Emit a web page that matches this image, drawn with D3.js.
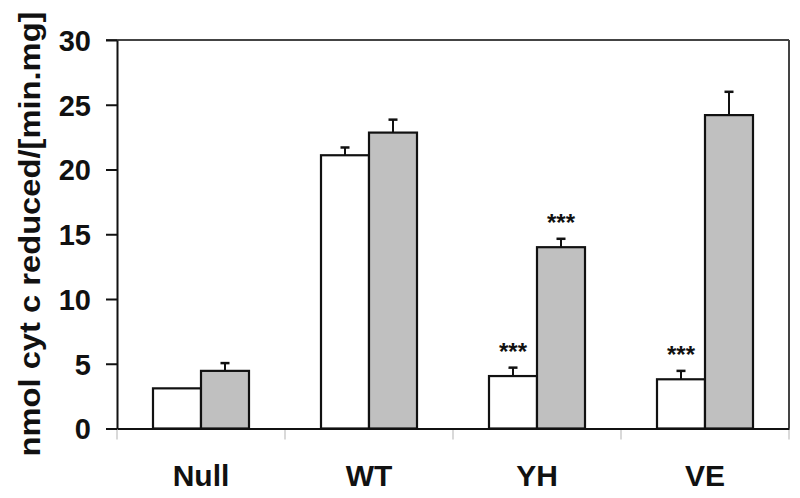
<!DOCTYPE html>
<html>
<head>
<meta charset="utf-8">
<script src="https://cdn.jsdelivr.net/npm/d3@7"></script>
<style>
  body { margin: 0; background: #fff; }
  text { font-family: "Liberation Sans", Arial, sans-serif; font-weight: bold; fill: #111; }
</style>
</head>
<body>
<div id="chart"></div>
<script>
// cytochrome c reduction, two series per strain
var categories = ["Null", "WT", "YH", "VE"];
var series = ["white", "gray"];
var whiteVals = [3.1, 21.1, 4.05, 3.8];
var grayVals = [4.45, 22.85, 14.0, 24.2];
var whiteErr = [0, 0.6, 0.65, 0.65];
var grayErr = [0.6, 1.0, 0.65, 1.8];
var whiteStars = ["", "", "***", "***"];
var grayStars = ["", "", "***", ""];
var yTicks = [0, 5, 10, 15, 20, 25, 30];

var W = 800, H = 498;
var margin = {top: 40, right: 11, bottom: 69.5, left: 117},
    width = W - margin.left - margin.right,
    height = H - margin.top - margin.bottom;

var svg = d3.select("#chart")
    .append("svg")
    .attr("width", W)
    .attr("height", H)
    .append("g")
    .attr("transform", `translate(${margin.left},${margin.top})`);

var x = d3.scaleBand().domain(categories).range([0, width]);
var x1 = d3.scaleBand().domain(series).range([0, x.bandwidth()]).paddingOuter(0.75);
var y = d3.scaleLinear().domain([0, 30]).range([height, 0]);

var fills = {white: "#ffffff", gray: "#c0c0c0"};

var data = [];
categories.forEach(function(c, i) {
  data.push({cat: c, s: "white", v: whiteVals[i], e: whiteErr[i], star: whiteStars[i]});
  data.push({cat: c, s: "gray", v: grayVals[i], e: grayErr[i], star: grayStars[i]});
});

// frame: top and right lines
svg.append("line")
    .attr("x1", -11).attr("x2", width)
    .attr("y1", y(30)).attr("y2", y(30))
    .attr("stroke", "#444").attr("stroke-width", 2);
svg.append("line")
    .attr("x1", width).attr("x2", width)
    .attr("y1", y(30)).attr("y2", height)
    .attr("stroke", "#444").attr("stroke-width", 2);

// light ticks under the baseline at category edges
var edges = categories.map(function(c) { return x(c); }).concat([x(categories[3]) + x.bandwidth()]);
svg.selectAll(".xtick")
    .data(edges)
  .enter().append("line")
    .attr("class", "xtick")
    .attr("x1", function(d) { return d; }).attr("x2", function(d) { return d; })
    .attr("y1", height).attr("y2", height + 11)
    .attr("stroke", "#ccc").attr("stroke-width", 1.5);

// bars
svg.selectAll(".bar")
    .data(data)
  .enter().append("rect")
    .attr("class", "bar")
    .attr("x", function(d) { return x(d.cat) + x1(d.s); })
    .attr("width", x1.bandwidth())
    .attr("y", function(d) { return y(d.v); })
    .attr("height", function(d) { return height - y(d.v); })
    .attr("fill", function(d) { return fills[d.s]; })
    .attr("stroke", "#111")
    .attr("stroke-width", 2.2);

// error bars
var withErr = data.filter(function(d) { return d.e > 0; });
var cx = function(d) { return x(d.cat) + x1(d.s) + x1.bandwidth() / 2; };
svg.selectAll(".err")
    .data(withErr)
  .enter().append("line")
    .attr("x1", cx).attr("x2", cx)
    .attr("y1", function(d) { return y(d.v); })
    .attr("y2", function(d) { return y(d.v + d.e); })
    .attr("stroke", "#111").attr("stroke-width", 2);
svg.selectAll(".cap")
    .data(withErr)
  .enter().append("line")
    .attr("x1", function(d) { return cx(d) - 4.5; })
    .attr("x2", function(d) { return cx(d) + 4.5; })
    .attr("y1", function(d) { return y(d.v + d.e); })
    .attr("y2", function(d) { return y(d.v + d.e); })
    .attr("stroke", "#111").attr("stroke-width", 2.5);

// significance stars
svg.selectAll(".star")
    .data(data.filter(function(d) { return d.star; }))
  .enter().append("text")
    .attr("x", cx)
    .attr("y", function(d) { return y(d.v + d.e) - 8; })
    .attr("text-anchor", "middle")
    .style("font-size", "24px")
    .text(function(d) { return d.star; });

// y axis
var yAxis = d3.axisLeft(y).tickValues(yTicks).tickSizeInner(11).tickSizeOuter(0).tickPadding(15);
var gy = svg.append("g").call(yAxis);
gy.select(".domain").attr("stroke", "#111").attr("stroke-width", 2);
gy.selectAll(".tick line").attr("stroke", "#111").attr("stroke-width", 2);
gy.selectAll(".tick text")
    .attr("fill", "#111")
    .style("font-family", "'Liberation Sans', Arial, sans-serif")
    .style("font-weight", "bold")
    .style("font-size", "29px")
    .attr("dy", "0.36em");

// x axis (labels only, baseline drawn as domain)
var xAxis = d3.axisBottom(x).tickSize(0).tickPadding(36);
var gx = svg.append("g").attr("transform", `translate(0,${height})`).call(xAxis);
gx.select(".domain").attr("stroke", "#111").attr("stroke-width", 2);
gx.selectAll(".tick text")
    .attr("fill", "#111")
    .style("font-family", "'Liberation Sans', Arial, sans-serif")
    .style("font-weight", "bold")
    .style("font-size", "30px");

// y label
svg.append("text")
    .attr("transform", `translate(${40 - margin.left},${234 - margin.top}) rotate(-90)`)
    .attr("text-anchor", "middle")
    .attr("textLength", 445)
    .attr("lengthAdjust", "spacingAndGlyphs")
    .style("font-size", "29px")
    .text("nmol cyt c reduced/[min.mg]");
</script>
</body>
</html>
